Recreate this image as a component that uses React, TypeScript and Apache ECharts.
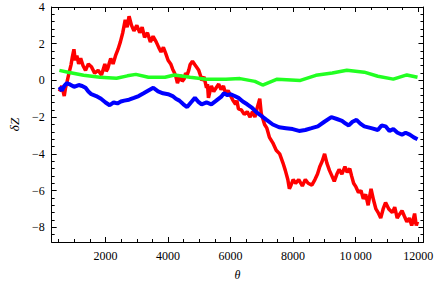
import React, { useEffect, useRef } from "react";
import * as echarts from "echarts";

// θ positions and δZ values (three noisy traces)
const redX = [523, 600, 678, 720, 771, 830, 895, 940, 988, 1030, 1081, 1140, 1204, 1280, 1359, 1450, 1545, 1650, 1762, 1870, 1978, 2020, 2071, 2120, 2164, 2240, 2319, 2400, 2474, 2550, 2629, 2690, 2752, 2830, 2907, 3000, 3093, 3170, 3248, 3340, 3433, 3520, 3619, 3700, 3774, 3850, 3929, 4000, 4084, 4150, 4207, 4250, 4300, 4350, 4393, 4450, 4517, 4560, 4610, 4660, 4703, 4780, 4858, 4920, 4981, 5030, 5074, 5150, 5229, 5260, 5291, 5340, 5384, 5460, 5539, 5620, 5694, 5770, 5848, 5920, 6003, 6080, 6158, 6200, 6251, 6340, 6437, 6530, 6623, 6700, 6778, 6850, 6933, 6980, 7087, 7160, 7242, 7350, 7459, 7570, 7676, 7750, 7830, 7880, 7923, 8000, 8078, 8180, 8295, 8390, 8481, 8600, 8698, 8780, 8852, 8930, 9007, 9080, 9162, 9240, 9316, 9400, 9471, 9560, 9657, 9730, 9812, 9870, 9935, 10010, 10090, 10170, 10245, 10320, 10400, 10450, 10493, 10570, 10648, 10720, 10802, 10880, 10957, 11060, 11174, 11250, 11329, 11400, 11483, 11560, 11638, 11720, 11793, 11840, 11886, 11940, 11979];
const redY = [-0.6, -0.3, -0.85, -0.4, -0.05, 0.4, 0.85, 1.3, 1.7, 1.1, 1.35, 0.9, 1.2, 0.8, 0.55, 0.9, 0.75, 0.4, 0.55, 0.3, 0.9, 0.5, 0.65, 0.95, 1.2, 0.9, 1.35, 1.7, 2.1, 2.6, 3.3, 2.9, 3.5, 3.0, 2.7, 3.0, 2.6, 2.9, 2.35, 2.6, 2.1, 2.4, 2.1, 1.8, 1.55, 1.8, 1.45, 1.1, 0.9, 0.6, 0.4, 0.2, -0.15, 0.1, 0.3, -0.05, 0.1, 0.4, 0.3, 0.55, 0.85, 1.05, 0.85, 0.7, 0.55, 0.3, 0.0, 0.2, -0.4, -0.2, -0.95, -0.6, -0.3, -0.6, -0.4, -0.2, -0.5, -0.3, -0.75, -0.55, -0.85, -1.1, -1.3, -1.1, -1.55, -1.6, -1.85, -1.7, -2.0, -1.7, -2.0, -1.5, -1.0, -1.8, -2.4, -2.6, -3.1, -3.4, -3.8, -4.0, -4.5, -4.9, -5.4, -5.9, -5.75, -5.4, -5.6, -5.4, -5.75, -5.4, -5.6, -5.7, -5.4, -5.1, -4.7, -4.4, -4.0, -4.5, -4.9, -5.2, -5.5, -5.1, -4.85, -5.1, -4.7, -5.0, -4.8, -5.2, -5.6, -5.8, -6.1, -6.0, -6.45, -6.2, -6.8, -6.3, -5.9, -6.5, -7.0, -7.2, -7.5, -7.0, -6.65, -7.0, -7.2, -6.9, -7.5, -7.3, -7.1, -7.4, -7.7, -7.5, -7.9, -7.6, -7.25, -7.9, -7.7];

const blueX = [523, 600, 680, 760, 833, 990, 1142, 1250, 1359, 1450, 1545, 1700, 1855, 2000, 2133, 2260, 2381, 2490, 2598, 2750, 2907, 3060, 3217, 3370, 3526, 3680, 3836, 4000, 4145, 4250, 4362, 4490, 4610, 4730, 4858, 4960, 5074, 5230, 5384, 5540, 5694, 5787, 5900, 6003, 6130, 6251, 6390, 6530, 6690, 6840, 7000, 7149, 7350, 7552, 7770, 7985, 8190, 8388, 8590, 8790, 9000, 9223, 9400, 9564, 9680, 9780, 9900, 10028, 10150, 10276, 10500, 10709, 10830, 10957, 11080, 11205, 11340, 11483, 11600, 11731, 11860, 11979];
const blueY = [-0.35, -0.55, -0.3, -0.15, -0.2, -0.35, -0.25, -0.3, -0.4, -0.6, -0.75, -0.85, -1.0, -1.2, -1.35, -1.2, -1.25, -1.15, -1.1, -1.05, -0.95, -0.85, -0.7, -0.55, -0.4, -0.6, -0.7, -0.75, -0.85, -1.0, -1.1, -1.3, -1.45, -1.2, -0.95, -1.15, -1.3, -1.2, -1.3, -1.1, -0.9, -0.7, -0.8, -0.75, -0.85, -0.95, -1.15, -1.3, -1.5, -1.75, -1.95, -2.15, -2.4, -2.55, -2.6, -2.65, -2.75, -2.7, -2.6, -2.5, -2.25, -2.0, -2.1, -2.2, -2.35, -2.45, -2.25, -2.15, -2.35, -2.5, -2.6, -2.7, -2.45, -2.5, -2.75, -2.65, -2.85, -2.95, -2.85, -2.95, -3.1, -3.2];

const greenX = [523, 800, 1297, 1824, 2350, 2700, 2969, 3371, 3898, 4207, 4703, 5230, 5848, 6300, 6778, 7025, 7490, 8233, 8728, 9254, 9719, 10276, 10710, 11205, 11638, 11979];
const greenY = [0.55, 0.45, 0.28, 0.17, 0.12, 0.25, 0.33, 0.17, 0.17, 0.3, 0.17, 0.07, 0.07, 0.1, -0.05, -0.25, 0.07, 0.0, 0.28, 0.4, 0.55, 0.45, 0.23, 0.07, 0.3, 0.17];

const xTickLabels: Record<number, string> = { 2000: "2000", 4000: "4000", 6000: "6000", 8000: "8000", 10000: "10\u2009000", 12000: "12000" };
const yTickValues = [-8, -6, -4, -2, 0, 2, 4];

const X_MIN = 276;
const X_MAX = 12170;
const Y_MIN = -8.8;
const Y_MAX = 4;

const FONT = "Liberation Serif";

const zip = (xs: number[], ys: number[]) => xs.map((x, i) => [x, ys[i]]);

export default function App() {
  const ref = useRef<HTMLDivElement>(null);
  useEffect(() => {
    if (!ref.current) return;
    const chart = echarts.init(ref.current, null, { renderer: "svg" });
    const axisLine = { show: true, onZero: false, lineStyle: { color: "#000", width: 1 } };
    const tick = { show: true, inside: true, length: 5, lineStyle: { color: "#000" } };
    const minorX = { show: true, splitNumber: 4, length: 3, lineStyle: { color: "#000" } };
    const minorY = { show: true, splitNumber: 5, length: 3, lineStyle: { color: "#000" } };
    chart.setOption({
      animation: false,
      backgroundColor: "#fff",
      grid: { left: 40, top: 7, right: 11, bottom: 41, containLabel: false },
      xAxis: [
        {
          type: "value", position: "bottom", min: X_MIN, max: X_MAX, splitNumber: 5,
          axisLine, axisTick: tick, minorTick: minorX, splitLine: { show: false },
          axisLabel: {
            color: "#000", fontFamily: FONT, fontSize: 12, margin: 8,
            formatter: (v: number) => xTickLabels[v] ?? "",
          },
          name: "θ", nameLocation: "middle", nameGap: 27,
          nameTextStyle: { color: "#000", fontFamily: FONT, fontSize: 12, fontStyle: "italic" },
        },
        {
          type: "value", position: "top", min: X_MIN, max: X_MAX, splitNumber: 5,
          axisLine, axisTick: tick, minorTick: minorX, splitLine: { show: false },
          axisLabel: { show: false },
        },
      ],
      yAxis: [
        {
          type: "value", position: "left", min: Y_MIN, max: Y_MAX, splitNumber: 6,
          axisLine, axisTick: tick, minorTick: minorY, splitLine: { show: false },
          axisLabel: {
            color: "#000", fontFamily: FONT, fontSize: 12, margin: 7,
            formatter: (v: number) => (yTickValues.includes(v) ? (v < 0 ? "\u2212" + Math.abs(v) : String(v)) : ""),
          },
          name: "δZ", nameLocation: "middle", nameGap: 27, nameRotate: 90,
          nameTextStyle: { color: "#000", fontFamily: FONT, fontSize: 13, fontStyle: "italic" },
        },
        {
          type: "value", position: "right", min: Y_MIN, max: Y_MAX, splitNumber: 6,
          axisLine, axisTick: tick, minorTick: minorY, splitLine: { show: false },
          axisLabel: { show: false },
        },
      ],
      series: [
        { type: "line", data: zip(redX, redY), showSymbol: false, lineStyle: { color: "#ff0000", width: 3.5 }, z: 2 },
        { type: "line", data: zip(blueX, blueY), showSymbol: false, lineStyle: { color: "#0000ff", width: 4 }, z: 3 },
        { type: "line", data: zip(greenX, greenY), showSymbol: false, lineStyle: { color: "#22ff22", width: 3.5 }, z: 4 },
      ],
    });
    return () => chart.dispose();
  }, []);
  return <div ref={ref} style={{ position: "fixed", left: 0, top: 0, width: 436, height: 286, background: "#fff" }} />;
}
